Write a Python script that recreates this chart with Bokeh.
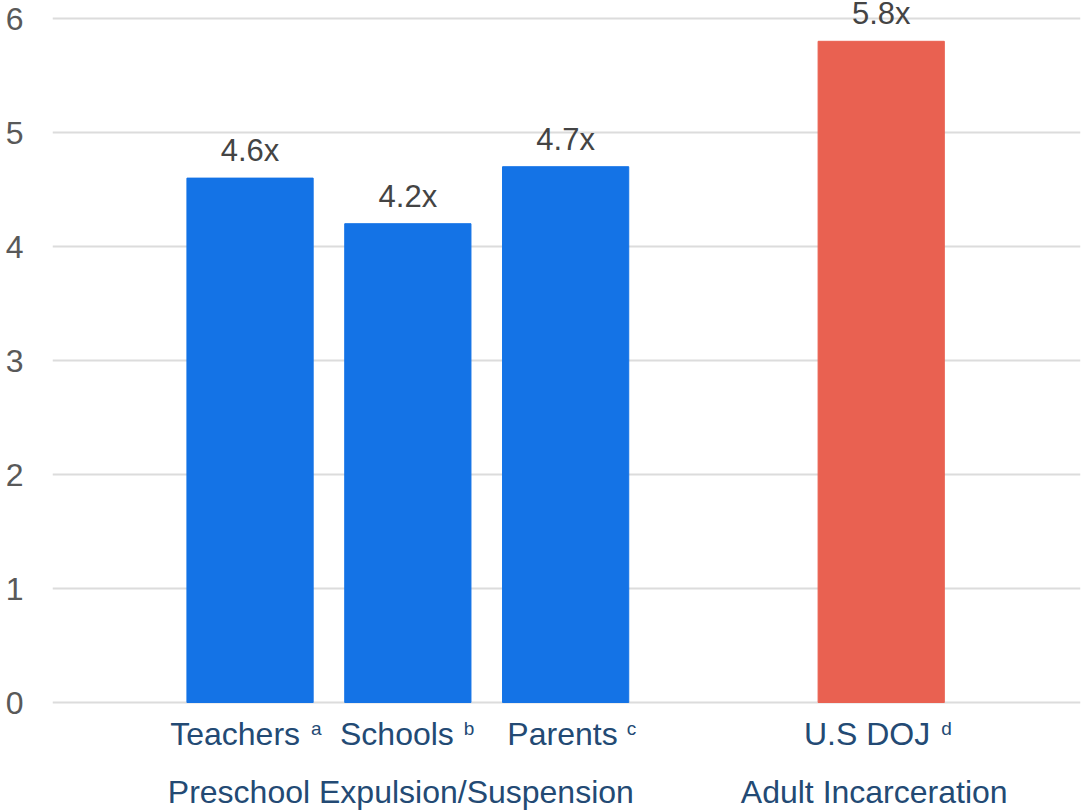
from bokeh.plotting import figure
from bokeh.models import Range1d, ColumnDataSource, LabelSet, FixedTicker, Label
from bokeh.core.properties import value
from bokeh.embed import file_html
from bokeh.resources import INLINE

# ---- data ----
groups = ["Preschool Expulsion/Suspension", "Adult Incarceration"]
group_members = [["Teachers", "Schools", "Parents"], ["U.S DOJ"]]
superscripts = ["a", "b", "c", "d"]
values = [4.6, 4.2, 4.7, 5.8]
value_labels = ["4.6x", "4.2x", "4.7x", "5.8x"]
bar_colors = ["#1473E6", "#1473E6", "#1473E6", "#E96151"]
y_ticks = [0, 1, 2, 3, 4, 5, 6]

# positions computed from group structure (one empty slot between groups)
categories, xs, group_centers = [], [], []
pos = 1
for members in group_members:
    start = pos
    for m in members:
        categories.append(m)
        xs.append(pos)
        pos += 1
    group_centers.append((start + pos - 1) / 2)
    pos += 1

FONT = "Liberation Sans"
LABEL_BLUE = "#234a74"

p = figure(width=1081, height=811, output_backend="svg", toolbar_location=None,
           x_axis_location=None,
           x_range=Range1d(-0.252, 6.263), y_range=Range1d(-109 / 114, 6.158),
           min_border_left=52, min_border_right=1, min_border_top=0,
           min_border_bottom=0)
p.outline_line_color = None
p.background_fill_color = "white"
p.border_fill_color = "white"

src = ColumnDataSource(dict(x=xs, top=values, color=bar_colors, lab=value_labels,
                            cat=categories, sup=superscripts))
p.vbar(x="x", top="top", bottom=0, width=0.8, color="color", source=src)

# y axis
p.yaxis.ticker = FixedTicker(ticks=y_ticks)
p.yaxis.axis_line_color = None
p.yaxis.major_tick_line_color = None
p.yaxis.minor_tick_line_color = None
p.yaxis.major_label_text_font = FONT
p.yaxis.major_label_text_font_size = "32px"
p.yaxis.major_label_text_color = "#595959"
p.yaxis.major_label_standoff = 23
p.ygrid.ticker = FixedTicker(ticks=y_ticks)
p.ygrid.grid_line_color = "#dcdcdc"
p.ygrid.grid_line_width = 2
p.xgrid.grid_line_color = None

# value labels
p.add_layout(LabelSet(x="x", y="top", text="lab", source=src, y_offset=17,
                      text_align="center", text_baseline="alphabetic",
                      text_font=value(FONT), text_font_size=value("31px"),
                      text_color=value("#444444")))

# category labels with superscripts
main_off = [50, 46, 52, 49]
sup_off = [61, 56, 61, 60]
for x, c, s, mo, so in zip(xs, categories, superscripts, main_off, sup_off):
    p.add_layout(Label(x=x, y=0, x_offset=mo, y_offset=-31, text=c, text_align="right",
                       text_baseline="alphabetic", text_font=FONT,
                       text_font_size="32px", text_color=LABEL_BLUE))
    p.add_layout(Label(x=x, y=0, x_offset=so, y_offset=-26, text=s, text_align="left",
                       text_baseline="alphabetic", text_font=FONT,
                       text_font_size="19px", text_color=LABEL_BLUE))

# group labels
for gx, g in zip(group_centers, groups):
    p.add_layout(Label(x=gx, y=0, x_offset=-7, y_offset=-89, text=g, text_align="center",
                       text_baseline="alphabetic", text_font=FONT,
                       text_font_size="32px", text_color=LABEL_BLUE))

open("out.html", "w").write(file_html(p, INLINE))
